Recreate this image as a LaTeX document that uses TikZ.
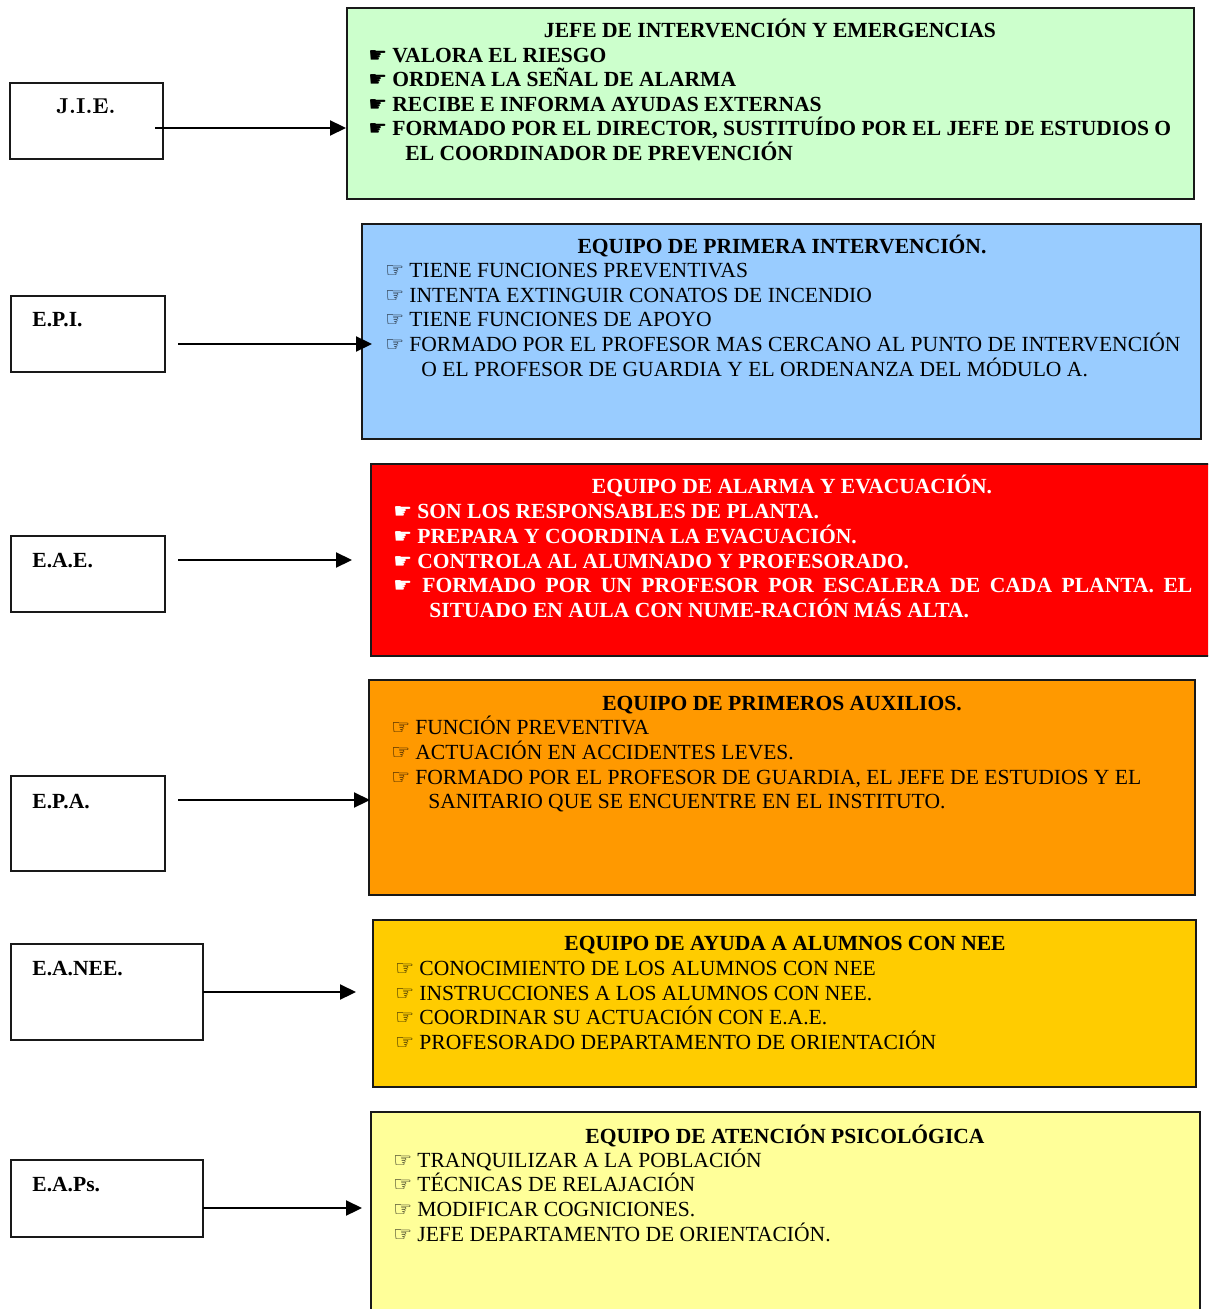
\documentclass[tikz,border=0pt]{standalone}
\usepackage{fontspec}
\setmainfont{Liberation Serif}
\newfontfamily\symfont{DejaVu Sans}
\usetikzlibrary{arrows.meta,fit}
\definecolor{cGreen}{HTML}{CCFFCC}
\definecolor{cBlue}{HTML}{99CCFF}
\definecolor{cRed}{HTML}{FF0000}
\definecolor{cOrange}{HTML}{FF9900}
\definecolor{cGold}{HTML}{FFCC00}
\definecolor{cPale}{HTML}{FFFF99}
\newcommand\blk{\makebox[12pt][l]{\symfont\fontsize{10.5}{10}\selectfont ☛}}
\newcommand\wht{\makebox[12pt][l]{\symfont\fontsize{10.5}{10}\selectfont ☞}}
\tikzset{
  panel/.style={draw=black!90, line width=1pt, inner sep=0pt},
  labbox/.style={draw=black!90, line width=0.8pt, inner sep=0pt},
  txt/.style={anchor=base west, inner sep=0pt, font=\fontsize{10.78}{12}\selectfont},
  btxt/.style={txt, font=\fontsize{10.78}{12}\selectfont\bfseries},
  ttl/.style={anchor=base, inner sep=0pt, font=\fontsize{10.78}{12}\selectfont\bfseries},
  arr/.style={line width=1.1pt, -{Triangle[length=8pt,width=7.5pt]}},
}
\begin{document}
\begin{tikzpicture}[x=0.5pt,y=-0.5pt]
\useasboundingbox (0,0) rectangle (1208,1309);
\clip (0,0) rectangle (1208,1309);
\fill[white] (0,0) rectangle (1208,1309);

% ---------- panels ----------
\node[panel, fill=cGreen,  fit={(347,8)(1194,199)}]    (pJIE) {};
\node[panel, fill=cBlue,   fit={(362,224)(1201,439)}]  (pEPI) {};
\node[panel, fill=cRed,    fit={(371,464)(1214,656)}]  (pEAE) {};
\node[panel, fill=cOrange, fit={(369,680)(1195,895)}]  (pEPA) {};
\node[panel, fill=cGold,   fit={(373,920)(1196,1087)}] (pNEE) {};
\node[panel, fill=cPale,   fit={(371,1112)(1200,1330)}] (pEAP) {};

% ---------- label boxes ----------
\node[labbox, fit={(10,83)(163,159)}]   (bJIE) {};
\node[labbox, fit={(11,296)(165,372)}]  (bEPI) {};
\node[labbox, fit={(11,536)(165,612)}]  (bEAE) {};
\node[labbox, fit={(11,776)(165,871)}]  (bEPA) {};
\node[labbox, fit={(11,944)(203,1040)}] (bNEE) {};
\node[labbox, fit={(11,1160)(203,1237)}] (bEAP) {};

\node[ttl] (lJIE) at (86,114) {\fontfamily{lmr}\fontseries{bx}\selectfont J.I.E.};
\node[btxt] (lEPI) at (32,327) {E.P.I.};
\node[btxt] (lEAE) at (32,567) {E.A.E.};
\node[btxt] (lEPA) at (32,808) {E.P.A.};
\node[btxt] (lNEE) at (32,975) {E.A.NEE.};
\node[btxt] (lEAP) at (32,1191) {E.A.Ps.};

% ---------- arrows ----------
\coordinate (s1) at (155,128);
\draw[arr] (s1) -- (pJIE.west |- s1);
\coordinate (s2) at (178,344); \coordinate (e2) at (372,344);
\draw[arr] (s2) -- (e2);
\coordinate (s3) at (178,560); \coordinate (e3) at (352,560);
\draw[arr] (s3) -- (e3);
\coordinate (s4) at (178,800); \coordinate (e4) at (370,800);
\draw[arr] (s4) -- (e4);
\coordinate (s5) at (203,992); \coordinate (e5) at (356,992);
\draw[arr] (s5) -- (e5);
\coordinate (s6) at (203,1208); \coordinate (e6) at (362,1208);
\draw[arr] (s6) -- (e6);

% ---------- J.I.E. panel ----------
\node[ttl] (t1) at (770,38) {JEFE DE INTERVENCIÓN Y EMERGENCIAS};
\node[btxt] (t1a) at (368,63)  {\blk VALORA EL RIESGO};
\node[btxt] (t1b) at (368,87)  {\blk ORDENA LA SEÑAL DE ALARMA};
\node[btxt] (t1c) at (368,112) {\blk RECIBE E INFORMA AYUDAS EXTERNAS};
\node[btxt] (t1d) at (368,136) {\blk FORMADO POR EL DIRECTOR, SUSTITUÍDO POR EL JEFE DE ESTUDIOS O};
\node[btxt] (t1e) at (405,161) {EL COORDINADOR DE PREVENCIÓN};

% ---------- E.P.I. panel ----------
\node[ttl] (t2) at (782,254) {EQUIPO DE PRIMERA INTERVENCIÓN.};
\node[txt] (t2a) at (385,278) {\wht TIENE FUNCIONES PREVENTIVAS};
\node[txt] (t2b) at (385,303) {\wht INTENTA EXTINGUIR CONATOS DE INCENDIO};
\node[txt] (t2c) at (385,327) {\wht TIENE FUNCIONES DE APOYO};
\node[txt] (t2d) at (385,352) {\wht FORMADO POR EL PROFESOR MAS CERCANO AL PUNTO DE INTERVENCIÓN};
\node[txt] (t2e) at (421,377) {O EL PROFESOR DE GUARDIA Y EL ORDENANZA DEL MÓDULO A.};

% ---------- E.A.E. panel ----------
\begin{scope}[every node/.append style={text=white}]
\node[ttl] (t3) at (792,494) {EQUIPO DE ALARMA Y EVACUACIÓN.};
\node[btxt] (t3a) at (393,518) {\blk SON LOS RESPONSABLES DE PLANTA.};
\node[btxt] (t3b) at (393,543) {\blk PREPARA Y COORDINA LA EVACUACIÓN.};
\node[btxt] (t3c) at (393,568) {\blk CONTROLA AL ALUMNADO Y PROFESORADO.};
\node[btxt] (t3d) at (393,592) {\makebox[14.5pt][l]{\symfont\fontsize{10.5}{10}\selectfont ☛}\makebox[385pt][s]{FORMADO POR UN PROFESOR POR ESCALERA DE CADA PLANTA. EL}};
\node[btxt] (t3e) at (429,617) {SITUADO EN AULA CON NUME-RACIÓN MÁS ALTA.};
\end{scope}

% ---------- E.P.A. panel ----------
\node[ttl] (t4) at (782,710) {EQUIPO DE PRIMEROS AUXILIOS.};
\node[txt] (t4a) at (391,734) {\wht FUNCIÓN PREVENTIVA};
\node[txt] (t4b) at (391,759) {\wht ACTUACIÓN EN ACCIDENTES LEVES.};
\node[txt] (t4c) at (391,784) {\wht FORMADO POR EL PROFESOR DE GUARDIA, EL JEFE DE ESTUDIOS Y EL};
\node[txt] (t4d) at (428,808) {SANITARIO QUE SE ENCUENTRE EN EL INSTITUTO.};

% ---------- E.A.NEE. panel ----------
\node[ttl] (t5) at (785,950) {EQUIPO DE AYUDA A ALUMNOS CON NEE};
\node[txt] (t5a) at (395,975)  {\wht CONOCIMIENTO DE LOS ALUMNOS CON NEE};
\node[txt] (t5b) at (395,1000) {\wht INSTRUCCIONES A LOS ALUMNOS CON NEE.};
\node[txt] (t5c) at (395,1024) {\wht COORDINAR SU ACTUACIÓN CON E.A.E.};
\node[txt] (t5d) at (395,1049) {\wht PROFESORADO DEPARTAMENTO DE ORIENTACIÓN};

% ---------- E.A.Ps. panel ----------
\node[ttl] (t6) at (785,1143) {EQUIPO DE ATENCIÓN PSICOLÓGICA};
\node[txt] (t6a) at (393,1167) {\wht TRANQUILIZAR A LA POBLACIÓN};
\node[txt] (t6b) at (393,1191) {\wht TÉCNICAS DE RELAJACIÓN};
\node[txt] (t6c) at (393,1216) {\wht MODIFICAR COGNICIONES.};
\node[txt] (t6d) at (393,1241) {\wht JEFE DEPARTAMENTO DE ORIENTACIÓN.};
\end{tikzpicture}
\end{document}
